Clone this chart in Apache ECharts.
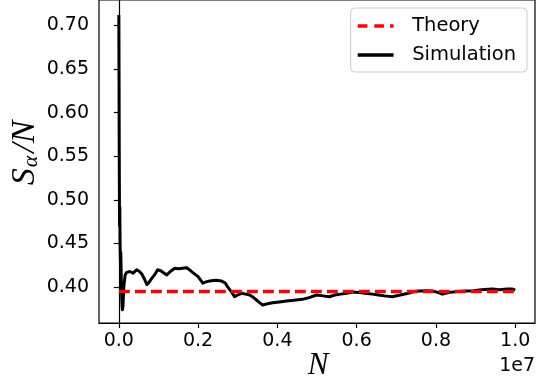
<!DOCTYPE html>
<html><head><meta charset="utf-8">
<script src="https://cdn.jsdelivr.net/npm/echarts@6/dist/echarts.min.js"></script>
<style>html,body{margin:0;padding:0;background:#fff}#c{width:537px;height:385px}</style>
</head><body><div id="c"></div>
<script>
// Simulation curve: N values and S_alpha/N values
const simN = [0, 5000, 10000, 18000, 25000, 32000, 40000, 50000, 62000, 75000, 90000, 105000, 125000, 160000, 200000, 280000, 360000, 450000, 520000, 580000, 650000, 710000, 770000, 830000, 900000, 980000, 1050000, 1110000, 1210000, 1300000, 1410000, 1500000, 1610000, 1710000, 1780000, 1860000, 2000000, 2120000, 2200000, 2290000, 2450000, 2590000, 2680000, 2750000, 2850000, 2920000, 3000000, 3100000, 3200000, 3300000, 3400000, 3480000, 3560000, 3630000, 3750000, 3880000, 4050000, 4230000, 4420000, 4630000, 4800000, 4990000, 5150000, 5310000, 5450000, 5600000, 5750000, 5890000, 6050000, 6200000, 6400000, 6550000, 6700000, 6900000, 7100000, 7300000, 7450000, 7580000, 7750000, 7910000, 8050000, 8160000, 8350000, 8550000, 8770000, 8950000, 9150000, 9420000, 9600000, 9800000, 9920000, 10000000];
const simV = [0.712, 0.64, 0.56, 0.47, 0.492, 0.45, 0.43, 0.44, 0.41, 0.385, 0.374, 0.378, 0.40, 0.414, 0.417, 0.418, 0.416, 0.420, 0.418, 0.415, 0.409, 0.403, 0.406, 0.410, 0.414, 0.420, 0.419, 0.417, 0.414, 0.418, 0.4216, 0.421, 0.4216, 0.4222, 0.420, 0.417, 0.412, 0.4045, 0.406, 0.407, 0.408, 0.407, 0.405, 0.400, 0.394, 0.389, 0.391, 0.393, 0.392, 0.391, 0.388, 0.385, 0.382, 0.3795, 0.381, 0.382, 0.383, 0.384, 0.385, 0.386, 0.388, 0.391, 0.390, 0.389, 0.391, 0.392, 0.393, 0.3943, 0.394, 0.393, 0.392, 0.391, 0.390, 0.389, 0.391, 0.393, 0.395, 0.3955, 0.396, 0.3955, 0.394, 0.392, 0.394, 0.395, 0.3955, 0.396, 0.397, 0.398, 0.397, 0.398, 0.398, 0.3965];
// Theory line
const theoryN = [0, 10000000];
const theoryV = [0.395, 0.395];
// Tick labels
const xTicks = [0, 2000000, 4000000, 6000000, 8000000, 10000000];
const xTickLabels = ['0.0', '0.2', '0.4', '0.6', '0.8', '1.0'];
const yTicks = [0.40, 0.45, 0.50, 0.55, 0.60, 0.65, 0.70];
const yTickLabels = ['0.40', '0.45', '0.50', '0.55', '0.60', '0.65', '0.70'];
const seriesNames = ['Theory', 'Simulation'];

const chart = echarts.init(document.getElementById('c'), null, {renderer: 'canvas'});
const font = 'DejaVu Sans';
chart.setOption({
  animation: false,
  backgroundColor: '#fff',
  grid: {left: 99, right: 2, top: -3, bottom: 62, show: true, borderColor: '#000', borderWidth: 1.2, backgroundColor: 'transparent'},
  xAxis: {
    type: 'value', min: -500000, max: 10500000,
    splitLine: {show: false},
    axisLine: {show: true, lineStyle: {color: '#000', width: 1.2}},
    axisTick: {show: true, length: 5, lineStyle: {color: '#000', width: 1.2}, customValues: xTicks},
    axisLabel: {customValues: xTicks, margin: 9, color: '#000', fontFamily: font, fontSize: 19,
      formatter: v => { const i = xTicks.indexOf(v); return i >= 0 ? xTickLabels[i] : ''; }}
  },
  yAxis: {
    type: 'value', min: 0.3589, max: 0.7292,
    splitLine: {show: false},
    axisLine: {show: true, lineStyle: {color: '#000', width: 1.2}},
    axisTick: {show: true, length: 5, lineStyle: {color: '#000', width: 1.2}, customValues: yTicks},
    axisLabel: {customValues: yTicks, margin: 10, color: '#000', fontFamily: font, fontSize: 19,
      formatter: v => { const i = yTicks.findIndex(t => Math.abs(t - v) < 1e-9); return i >= 0 ? yTickLabels[i] : ''; }}
  },
  legend: {
    orient: 'vertical', right: 10, top: 8,
    data: [
      {name: seriesNames[0], icon: 'path://M0,0h11v4h-11z M19,0h11v4h-11z M37,0h4v4h-4z'},
      {name: seriesNames[1], icon: 'path://M0,0h41v4h-41z'}
    ],
    itemWidth: 41, itemHeight: 3.5, itemGap: 7,
    itemStyle: {borderWidth: 0},
    padding: [7, 11, 6, 7],
    backgroundColor: '#fff', borderColor: '#cccccc', borderWidth: 1, borderRadius: 4,
    textStyle: {fontFamily: font, fontSize: 19.5, color: '#000', lineHeight: 22, padding: [0, 0, 0, 11]}
  },
  series: [
    {name: seriesNames[0], type: 'line', data: theoryN.map((n, i) => [n, theoryV[i]]), showSymbol: false, symbol: 'none',
      lineStyle: {color: '#ff0000', width: 3.5, type: [11, 5]}, itemStyle: {color: '#ff0000'}, z: 3},
    {name: seriesNames[1], type: 'line', data: simN.map((n, i) => [n, simV[i]]), showSymbol: false, symbol: 'none',
      lineStyle: {color: '#000', width: 3, join: 'round'}, itemStyle: {color: '#000'}, z: 2}
  ],
  graphic: [
    {type: 'text', x: 318, y: 366, style: {text: 'N', font: 'italic 31px "Liberation Serif"', fill: '#000', align: 'center', verticalAlign: 'middle'}},
    {type: 'text', x: 535, y: 366, style: {text: '1e7', font: '19px "DejaVu Sans"', fill: '#000', align: 'right', verticalAlign: 'middle'}},
    {type: 'text', x: 25, y: 153, rotation: Math.PI / 2,
      style: {text: '{s|S}{a|α}{g|/N}', align: 'center', verticalAlign: 'middle',
        rich: {s: {fontFamily: 'Liberation Serif', fontStyle: 'italic', fontSize: 34, color: '#000', verticalAlign: 'bottom'},
               g: {fontFamily: 'Liberation Serif', fontStyle: 'italic', fontSize: 34, color: '#000', verticalAlign: 'bottom', padding: [0, 0, 0, 3]},
               a: {fontFamily: 'Liberation Serif', fontStyle: 'italic', fontSize: 22, color: '#000', verticalAlign: 'bottom', padding: [13, 0, 0, 1]}}}}
  ]
});
</script></body></html>
